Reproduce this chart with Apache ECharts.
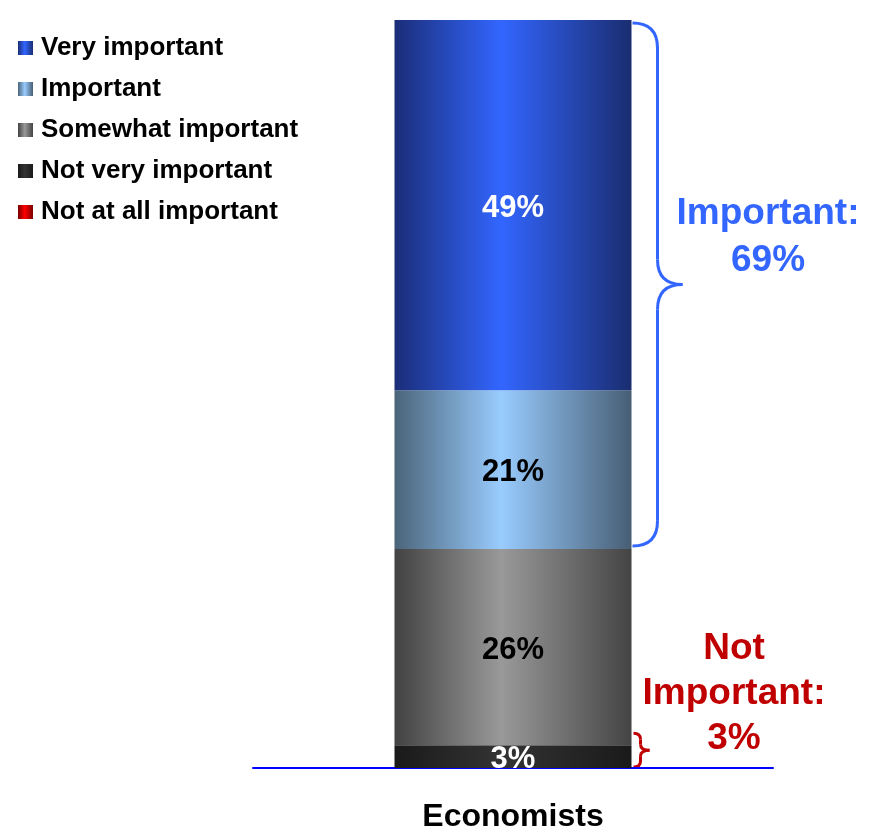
<!DOCTYPE html>
<html>
<head>
<meta charset="utf-8">
<script src="https://cdn.jsdelivr.net/npm/echarts@6/dist/echarts.min.js"></script>
<style>
  html, body { margin: 0; padding: 0; background: #fff; }
  #chart { width: 874px; height: 832px; }
</style>
</head>
<body>
<div id="chart"></div>
<script>
// data
const categories = ['Economists']
const legendOrder = ['Very important', 'Important', 'Somewhat important', 'Not very important', 'Not at all important']
const notAtAll = [0]
const notVery = [3]
const somewhat = [26]
const important = [21]
const veryImportant = [49]
const importantLabel = 'Important:\n69%'
const notImportantLabel = 'Not\nImportant:\n3%'

const FONT = '"Liberation Sans", Arial, sans-serif'
const BAR_W = 237

// horizontal shading like the original 3D-ish bars
function shade (edgeL, mid, edgeR) {
  return new echarts.graphic.LinearGradient(0, 0, 1, 0, [
    { offset: 0, color: edgeL },
    { offset: 0.45, color: mid },
    { offset: 1, color: edgeR }
  ])
}

function barSeries (name, data, color, labelColor) {
  return {
    name: name,
    type: 'bar',
    stack: 'total',
    barWidth: BAR_W,
    data: data,
    itemStyle: { color: color },
    label: {
      show: data[0] > 0,
      position: 'inside',
      offset: [0, 3],
      formatter: '{c}%',
      fontFamily: FONT,
      fontWeight: 'bold',
      fontSize: 31,
      color: labelColor
    }
  }
}

// curly brace opening to the left, built from quadratic curves and lines
function brace (x0, y1, y2, xm, xt, r, color) {
  const ym = (y1 + y2) / 2
  const style = { fill: 'none', stroke: color, lineWidth: 3 }
  const curve = (a, b, c, d, e, f) => ({
    type: 'bezierCurve',
    shape: { x1: a, y1: b, cpx1: c, cpy1: d, x2: e, y2: f },
    style: style
  })
  const line = (a, b, c, d) => ({
    type: 'line',
    shape: { x1: a, y1: b, x2: c, y2: d },
    style: style
  })
  return [
    curve(x0, y1, xm, y1, xm, y1 + r),
    line(xm, y1 + r, xm, ym - r),
    curve(xm, ym - r, xm, ym, xt, ym),
    curve(xt, ym, xm, ym, xm, ym + r),
    line(xm, ym + r, xm, y2 - r),
    curve(xm, y2 - r, xm, y2, x0, y2)
  ]
}

const chart = echarts.init(document.getElementById('chart'))
chart.setOption({
  backgroundColor: '#fff',
  animation: false,
  legend: {
    orient: 'vertical',
    left: 13,
    top: 30,
    icon: 'rect',
    itemWidth: 15,
    itemHeight: 14,
    itemGap: 15,
    data: legendOrder,
    textStyle: {
      fontFamily: FONT,
      fontWeight: 'bold',
      fontSize: 26,
      color: '#000',
      padding: [0, 0, 0, 3]
    }
  },
  grid: {
    left: 253,
    right: 101,
    top: 20,
    bottom: 64,
    outerBoundsMode: 'none'
  },
  xAxis: {
    type: 'category',
    data: categories,
    axisLine: { lineStyle: { color: '#0000ff', width: 2 } },
    axisTick: { show: false },
    axisLabel: {
      margin: 33,
      fontFamily: FONT,
      fontWeight: 'bold',
      fontSize: 32,
      color: '#000'
    }
  },
  yAxis: {
    type: 'value',
    min: 0,
    max: 99,
    show: false,
    splitLine: { show: false }
  },
  series: [
    barSeries('Not at all important', notAtAll, shade('#7a0000', '#ff0000', '#7a0000'), '#fff'),
    barSeries('Not very important', notVery, shade('#1a1a1a', '#333333', '#1a1a1a'), '#fff'),
    barSeries('Somewhat important', somewhat, shade('#424242', '#999999', '#444444'), '#000'),
    barSeries('Important', important, shade('#4a6479', '#99ccff', '#475e74'), '#000'),
    barSeries('Very important', veryImportant, shade('#1a2d78', '#3366ff', '#1a2d70'), '#fff')
  ]
})

// braces placed from the axis scale
const base = notAtAll[0] + notVery[0] + somewhat[0]
const topVal = base + important[0] + veryImportant[0]
const notImp = notAtAll[0] + notVery[0]
const barRight = chart.convertToPixel({ xAxisIndex: 0 }, 0) + BAR_W / 2
const yTop = chart.convertToPixel({ yAxisIndex: 0 }, topVal)
const yBase = chart.convertToPixel({ yAxisIndex: 0 }, base)
const yZero = chart.convertToPixel({ yAxisIndex: 0 }, 0)
const yNotImp = chart.convertToPixel({ yAxisIndex: 0 }, notImp)

const graphics = []
  .concat(brace(barRight + 1, yTop + 3, yBase - 3, barRight + 26, barRight + 51, 25, '#3366ff'))
  .concat(brace(barRight + 2, yNotImp - 12, yZero - 1, barRight + 9, barRight + 18, 6, '#c00000'))
  .concat([
    {
      type: 'text',
      style: {
        text: importantLabel,
        x: 768,
        y: 237,
        textAlign: 'center',
        textVerticalAlign: 'middle',
        font: 'bold 37px ' + FONT,
        lineHeight: 47,
        fill: '#3366ff'
      }
    },
    {
      type: 'text',
      style: {
        text: notImportantLabel,
        x: 734,
        y: 694,
        textAlign: 'center',
        textVerticalAlign: 'middle',
        font: 'bold 37px ' + FONT,
        lineHeight: 45,
        fill: '#c00000'
      }
    }
  ])

chart.setOption({ graphic: graphics })
</script>
</body>
</html>
